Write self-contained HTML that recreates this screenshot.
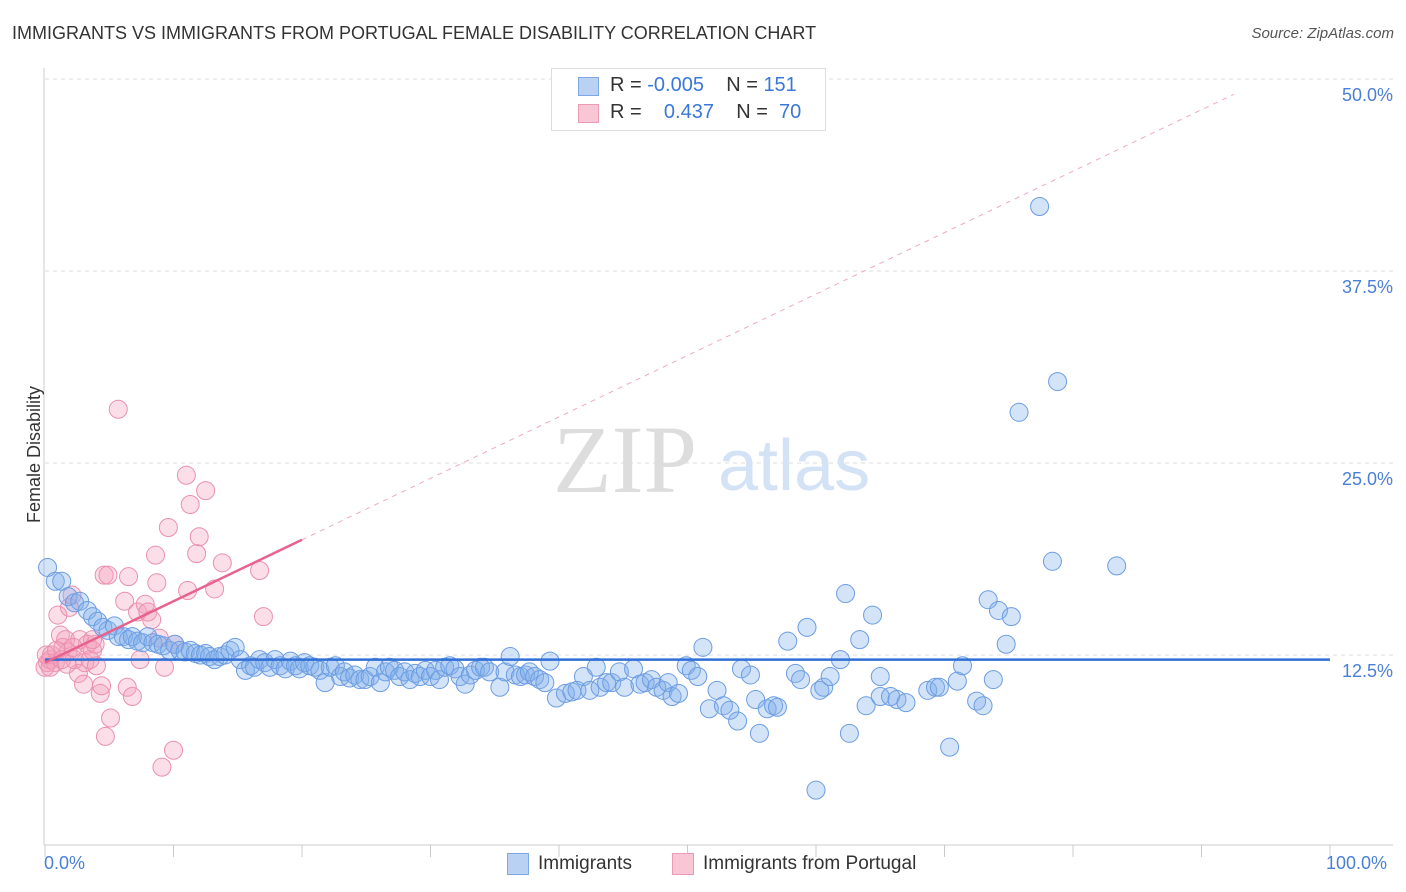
<!DOCTYPE html>
<html><head><meta charset="utf-8"><style>
body{margin:0;background:#fff;font-family:"Liberation Sans",sans-serif;}
#wrap{position:relative;width:1406px;height:892px;overflow:hidden;}
.t{position:absolute;white-space:nowrap;}
</style></head><body><div id="wrap">
<div class="t" style="left:12px;top:23px;font-size:18px;color:#333;">IMMIGRANTS VS IMMIGRANTS FROM PORTUGAL FEMALE DISABILITY CORRELATION CHART</div>
<div class="t" style="right:12px;top:25px;font-size:15px;color:#555;font-style:italic;">Source: ZipAtlas.com</div>
<svg id="plot" width="1406" height="892" style="position:absolute;left:0;top:0"></svg>
</div>
<script>
const blueX=[0.2,0.8,1.3,1.8,2.3,2.7,3.3,3.7,4.1,4.5,4.9,5.4,5.7,6.1,6.5,6.8,7.2,7.6,8.0,8.4,8.8,9.2,9.7,10.1,10.5,10.9,11.3,11.7,12.1,12.5,12.8,13.2,13.6,14.0,14.4,14.8,15.2,15.6,16.0,16.3,16.7,17.1,17.5,17.9,18.3,18.7,19.1,19.5,19.8,20.2,20.6,21.0,21.4,21.8,22.2,22.6,23.0,23.3,23.7,24.1,24.5,24.9,25.3,25.7,26.1,26.5,26.8,27.2,27.6,28.0,28.4,28.8,29.2,29.6,30.0,30.4,30.7,31.1,31.5,31.9,32.3,32.7,33.1,33.5,33.9,34.2,34.6,35.4,35.8,36.2,36.6,37.0,37.4,37.7,38.1,38.5,38.9,39.3,39.8,40.5,41.0,41.4,41.9,42.4,42.9,43.2,43.7,44.1,44.7,45.1,45.8,46.3,46.7,47.2,47.6,48.1,48.5,48.8,49.3,49.9,50.3,50.8,51.2,51.7,52.3,52.8,53.3,53.9,54.2,54.9,55.3,55.6,56.2,56.7,57.0,57.8,58.4,58.8,59.3,60.0,60.3,60.6,61.1,61.9,62.3,62.6,63.4,63.9,64.4,65.0,65.0,65.8,66.3,67.0,68.7,69.3,69.6,70.4,71.0,71.4,72.5,73.0,73.4,73.8,74.2,74.8,75.2,75.8,77.4,78.4,78.8,83.4];
const blueY=[18.2,17.3,17.3,16.3,15.9,16.0,15.4,15.0,14.7,14.3,14.1,14.4,13.7,13.7,13.5,13.7,13.4,13.3,13.7,13.3,13.2,13.1,12.8,13.2,12.8,12.7,12.8,12.6,12.5,12.6,12.4,12.2,12.4,12.5,12.8,13.0,12.2,11.5,11.8,11.7,12.2,12.0,11.7,12.2,11.8,11.6,12.1,11.8,11.6,12.0,11.8,11.7,11.5,10.7,11.7,11.8,11.1,11.4,11.0,11.2,10.9,10.9,11.1,11.7,10.7,11.4,11.7,11.5,11.1,11.4,10.9,11.3,11.1,11.5,11.1,11.5,10.9,11.7,11.8,11.6,11.1,10.6,11.2,11.5,11.7,11.7,11.4,10.4,11.4,12.4,11.2,11.1,11.2,11.4,11.1,10.9,10.7,12.1,9.7,10.0,10.1,10.2,11.1,10.2,11.7,10.4,10.7,10.7,11.4,10.4,11.6,10.6,10.7,10.9,10.4,10.2,10.7,9.8,10.0,11.8,11.5,11.1,13.0,9.0,10.2,9.2,8.9,8.2,11.6,11.2,9.6,7.4,9.0,9.2,9.1,13.4,11.3,10.9,14.3,3.7,10.2,10.4,11.1,12.2,16.5,7.4,13.5,9.2,15.1,11.1,9.8,9.8,9.6,9.4,10.2,10.4,10.4,6.5,10.8,11.8,9.5,9.2,16.1,10.9,15.4,13.2,15.0,28.3,41.7,18.6,30.3,18.3];
const pinkX=[0,0.2,0.4,0.5,0.8,1.0,1.2,1.4,1.6,1.8,1.9,2.1,2.3,2.6,2.7,3.0,3.1,3.3,3.5,3.7,3.9,4.0,4.3,4.4,4.6,4.7,4.9,5.1,5.7,6.2,6.4,6.5,6.8,7.2,7.4,7.8,8.0,8.3,8.6,8.7,8.9,9.1,9.3,9.6,10.0,10.1,11.0,11.1,11.3,11.8,12.0,12.5,13.2,13.8,16.7,17.0,0.1,0.4,0.9,1.3,1.7,2.2,3.7];
const pinkY=[11.7,12.0,12.2,12.5,12.0,15.1,13.8,13.0,13.5,12.7,15.6,16.4,12.2,11.3,13.5,10.6,12.0,13.2,12.2,12.8,13.2,11.8,10.0,10.5,17.7,7.2,17.7,8.4,28.5,16.0,10.4,17.6,9.8,15.3,12.2,15.8,15.3,14.8,19.0,17.2,13.6,5.2,11.7,20.8,6.3,13.2,24.2,16.7,22.3,19.1,20.2,23.2,16.8,18.5,18.0,15.0,12.5,11.7,12.8,12.2,11.9,13.0,13.5];
const yTicks=[12.5,25.0,37.5,50.0];
const blueFit=[12.2,12.2];
const pinkFit=[12.0,0.4];

const X0=45,X1=1330,YB=847,PXPER=15.36;
const sx=v=>X0+(X1-X0)*v/100;
const sy=v=>YB-v*PXPER;
const svg=document.getElementById('plot');
const NS='http://www.w3.org/2000/svg';
function mk(tag,attrs){const e=document.createElementNS(NS,tag);for(const k in attrs)e.setAttribute(k,attrs[k]);svg.appendChild(e);return e;}

yTicks.forEach(t=>{
  const g=mk('line',{x1:45,x2:1393,y1:sy(t),y2:sy(t),stroke:'#ddd','stroke-dasharray':'4,4'});
  
  
  const tx=mk('text',{x:1393,y:sy(t)+22,'text-anchor':'end','font-size':18,fill:'#4a7fd6','font-family':'Liberation Sans, sans-serif'});
  tx.textContent=t.toFixed(1)+'%';
  
  
});
const ax=mk('line',{x1:44,x2:44,y1:68,y2:845,stroke:'#ccc'});


const bx=mk('line',{x1:44,x2:1393,y1:845,y2:845,stroke:'#ccc'});


for(let i=0;i<=10;i++){
  const tk=mk('line',{x1:sx(i*10),x2:sx(i*10),y1:845,y2:857,stroke:'#ccc'});
  
  
}
// watermark
const w1=mk('text',{x:553,y:492,'font-size':96,fill:'#ddd','font-family':'Liberation Serif, serif'});
w1.textContent='ZIP';


const w2=mk('text',{x:718,y:490,'font-size':72,fill:'#d4e2f6','font-family':'Liberation Sans, sans-serif'});
w2.textContent='atlas';



pinkX.forEach((x,i)=>{
  const c=mk('circle',{cx:sx(x),cy:sy(pinkY[i]),r:9,fill:'rgba(244,160,188,0.35)',stroke:'#ea90ae','stroke-width':1});
  
  
});
blueX.forEach((x,i)=>{
  const c=mk('circle',{cx:sx(x),cy:sy(blueY[i]),r:9,fill:'rgba(130,175,235,0.35)',stroke:'#6c9de2','stroke-width':1});
  
  
});
const bl=mk('line',{x1:sx(0),x2:sx(100),y1:sy(blueFit[0]),y2:sy(blueFit[1]),stroke:'#2f6fd6','stroke-width':2.5});


const pf=x=>pinkFit[0]+pinkFit[1]*x;
const pd=mk('line',{x1:sx(20),x2:sx(92.5),y1:sy(pf(20)),y2:sy(pf(92.5)),stroke:'#eeaac0','stroke-width':1,'stroke-dasharray':'5,5'});


const ps=mk('line',{x1:sx(0),x2:sx(20),y1:sy(pf(0)),y2:sy(pf(20)),stroke:'#e8628e','stroke-width':2.5});


</script>
<div class="t" style="left:-34px;top:444px;font-size:18px;color:#333;transform:rotate(-90deg);">Female Disability</div>
<div class="t" style="left:44px;top:853px;font-size:18px;color:#4a7fd6;">0.0%</div>
<div class="t" style="left:1326px;top:853px;font-size:18px;color:#4a7fd6;">100.0%</div>
<div style="position:absolute;left:551px;top:68px;width:273px;height:61px;border:1px solid #ddd;background:#fff;font-size:20px;">
 <div style="position:absolute;left:26px;top:8px;width:19px;height:17px;background:#b9d1f3;border:1px solid #7fa7e3"></div>
 <div class="t" style="left:58px;top:5px;color:#333">R = <span style="color:#3a78d8">-0.005</span>&nbsp;&nbsp;&nbsp; N = <span style="color:#3a78d8">151</span></div>
 <div style="position:absolute;left:26px;top:35px;width:19px;height:17px;background:#f8c6d5;border:1px solid #ec9ab5"></div>
 <div class="t" style="left:58px;top:32px;color:#333">R = &nbsp;&nbsp; <span style="color:#3a78d8">0.437</span>&nbsp;&nbsp;&nbsp; N = &nbsp;<span style="color:#3a78d8">70</span></div>
</div>
<div style="position:absolute;left:507px;top:853px;width:20px;height:20px;background:#b9d1f3;border:1px solid #7fa7e3"></div>
<div class="t" style="left:538px;top:853px;font-size:19px;color:#333;">Immigrants</div>
<div style="position:absolute;left:672px;top:853px;width:20px;height:20px;background:#f8c6d5;border:1px solid #ec9ab5"></div>
<div class="t" style="left:703px;top:853px;font-size:19px;color:#333;">Immigrants from Portugal</div>
</body></html>
